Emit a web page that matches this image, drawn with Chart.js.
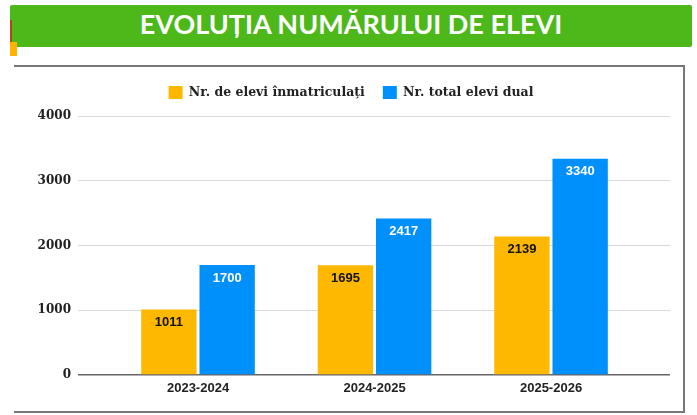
<!DOCTYPE html>
<html>
<head>
<meta charset="utf-8">
<script src="https://cdn.jsdelivr.net/npm/chart.js@4.4.1/dist/chart.umd.min.js"></script>
<style>
  body { margin: 0; background: #fff; }
  #banner {
    position: absolute; left: 10px; top: 5px; width: 682px; height: 42px;
    background: #4cb81a; border-radius: 2px; color: #fff;
    font: bold 27px Lato, sans-serif; text-align: center; line-height: 38px;
  }
  #redline { position: absolute; left: 10px; top: 20px; width: 2px; height: 22px; background: #b5451b; }
  #orange { position: absolute; left: 10px; top: 42px; width: 7px; height: 14px; background: #ffb300; }
  #frame {
    position: absolute; left: 14px; top: 65px; width: 669px; height: 344px;
    border-top: 2px solid #777; border-right: 2px solid #777; border-bottom: 2px solid #777;
  }
  #wrap { position: absolute; left: 0; top: 0; width: 697px; height: 415px; }
</style>
</head>
<body>
<div id="banner">EVOLUȚIA NUMĂRULUI DE ELEVI</div>
<div id="redline"></div>
<div id="orange"></div>
<div id="frame"></div>
<div id="wrap"><canvas id="chart"></canvas></div>
<script>
const years = ['2023-2024', '2024-2025', '2025-2026']
const enrolled = [1011, 1695, 2139]
const dualTotal = [1700, 2417, 3340]
const yTicks = [0, 1000, 2000, 3000, 4000]

const valueLabels = {
	id: 'valueLabels',
	afterDatasetsDraw(chart) {
		const ctx = chart.ctx
		ctx.save()
		ctx.font = 'bold 13px "Liberation Sans", Arial, sans-serif'
		ctx.textAlign = 'center'
		ctx.textBaseline = 'middle'
		chart.data.datasets.forEach((ds, i) => {
			chart.getDatasetMeta(i).data.forEach((bar, j) => {
				ctx.fillStyle = ds.labelColor
				ctx.fillText(ds.data[j].y, bar.x, bar.y + 13)
			})
		})
		ctx.restore()
	}
}

// a bit more room under the legend
const legendSpace = {
	id: 'legendSpace',
	beforeInit(chart) {
		const fit = chart.legend.fit
		chart.legend.fit = function () {
			fit.bind(chart.legend)()
			this.height += 7
		}
	}
}

new Chart(document.getElementById('chart'), {
	type: 'bar',
	data: {
		datasets: [{
			label: 'Nr. de elevi înmatriculați',
			data: enrolled.map((v, i) => ({ x: i, y: v })),
			backgroundColor: '#ffb800',
			labelColor: '#111'
		}, {
			label: 'Nr. total elevi dual',
			data: dualTotal.map((v, i) => ({ x: i, y: v })),
			backgroundColor: '#0090fb',
			labelColor: '#fff'
		}]
	},
	plugins: [valueLabels, legendSpace],
	options: {
		responsive: true,
		maintainAspectRatio: false,
		animation: false,
		categoryPercentage: 0.66,
		barPercentage: 0.95,
		layout: { padding: { top: 68, left: 32, right: 27, bottom: 0 } },
		plugins: {
			tooltip: { enabled: false },
			legend: {
				position: 'top',
				labels: {
					boxWidth: 14, boxHeight: 13, padding: 18,
					color: '#222',
					font: { family: '"DejaVu Serif", Georgia, serif', weight: 'bold', size: 12.5 }
				}
			}
		},
		scales: {
			x: {
				type: 'linear',
				offset: false,
				min: -0.68,
				max: 2.674,
				afterBuildTicks: (scale) => { scale.ticks = years.map((y, i) => ({ value: i })) },
				afterFit: (scale) => { scale.height = 40 },
				grid: { display: false, drawTicks: false },
				border: { display: false },
				ticks: {
					callback: (v) => years[v],
					padding: 6,
					color: '#222',
					font: { family: '"Liberation Sans", Arial, sans-serif', weight: 'bold', size: 13 }
				}
			},
			y: {
				min: 0,
				max: 4000,
				afterBuildTicks: (scale) => { scale.ticks = yTicks.map(v => ({ value: v })) },
				afterFit: (scale) => { scale.width = 46 },
				border: { display: false },
				grid: {
					drawTicks: false,
					color: (c) => c.tick.value === 0 ? '#666' : '#d9d9d9',
					lineWidth: (c) => c.tick.value === 0 ? 1.5 : 1
				},
				ticks: {
					callback: (v) => String(v),
					padding: 7,
					color: '#222',
					font: { family: '"DejaVu Serif", Georgia, serif', weight: 'bold', size: 12 }
				}
			}
		}
	}
})
</script>
</body>
</html>
